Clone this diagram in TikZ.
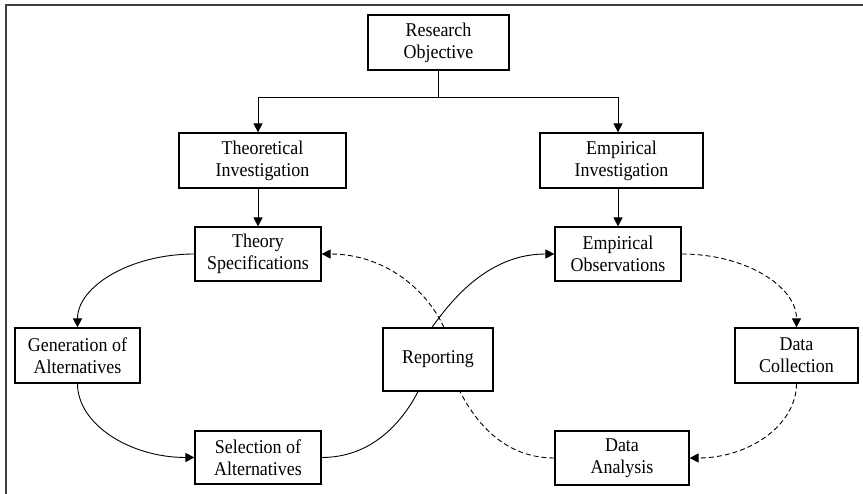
\documentclass[tikz,border=0pt]{standalone}
\usepackage{fontspec}
\setmainfont{Liberation Serif}[FakeStretch=0.92]
\usetikzlibrary{arrows.meta}
\pgfdeclarelayer{back}
\pgfsetlayers{back,main}
\begin{document}
\begin{tikzpicture}[x=1pt,y=-1pt,
  box/.style={draw, line width=1.2pt, fill=white, inner sep=0pt, align=center,
    font=\fontsize{19.5}{22}\selectfont},
  link/.style={line width=0.9pt},
  dashlink/.style={line width=0.9pt, dash pattern=on 5pt off 3pt},
  tip/.style={-{Triangle[length=9pt,width=9pt]}},
  frame/.style={line width=1.2pt, black!75}]
\useasboundingbox (0,0) rectangle (863,494);

% outer frame (top and left edges)
\draw[frame] (863,5) -- (6,5) -- (6,494);

% boxes
\node[box, minimum width=141pt, minimum height=55pt] (ro)  at (438.5,42.5) {Research\\Objective};
\node[box, minimum width=167pt, minimum height=55pt] (ti)  at (262.5,160.5) {Theoretical\\Investigation};
\node[box, minimum width=163pt, minimum height=55pt] (ei)  at (621.5,160.5) {Empirical\\Investigation};
\node[box, minimum width=126pt, minimum height=54pt] (ts)  at (258,254) {Theory\\Specifications};
\node[box, minimum width=126pt, minimum height=54pt] (eo)  at (618,254) {Empirical\\Observations};
\node[box, minimum width=125pt, minimum height=55pt] (ga)  at (77.5,355.5) {Generation of\\Alternatives};
\node[box, minimum width=110pt, minimum height=63pt] (rep) at (438,359.5) {Reporting};
\node[box, minimum width=123pt, minimum height=55pt] (dc)  at (796.5,355.5) {Data\\Collection};
\node[box, minimum width=126pt, minimum height=53pt] (sel) at (258,457.5) {Selection of\\Alternatives};
\node[box, minimum width=134pt, minimum height=54pt] (da)  at (622,458) {Data\\Analysis};

\begin{pgfonlayer}{back}
% tree from the objective
\coordinate (split) at (438.5,97);
\draw[link] (ro.south) -- (split);
\draw[link,tip] (split) -| (ts.north |- ti.north);
\draw[link,tip] (split) -| (eo.north |- ei.north);
\draw[link,tip] (ti.south -| ts.north) -- (ts.north);
\draw[link,tip] (ei.south -| eo.north) -- (eo.north);

% theory loop (solid)
\draw[link,tip] (ts.west) .. controls +(-64,0) and +(0,-41) .. (ga.north);
\draw[link,tip] (ga.south) .. controls +(0,41) and +(-64,0) .. (sel.west);
\draw[link] (sel.east) .. controls +(50,0) and +(-16,31) .. ([xshift=-20pt]rep.south);
\draw[link,tip] ([xshift=-6pt]rep.north) .. controls +(26,-37) and +(-60,0) .. (eo.west);

% empirical loop (dashed)
\draw[dashlink,tip] (eo.east) .. controls +(64,0) and +(0,-41) .. (dc.north);
\draw[dashlink,tip] (dc.south) .. controls +(0,41) and +(60,0) .. (da.east);
\draw[dashlink] (da.west) .. controls +(-50,0) and +(16,31) .. ([xshift=22pt]rep.south);
\draw[dashlink,tip] ([xshift=6pt]rep.north) .. controls +(-19,-41) and +(60,0) .. (ts.east);
\end{pgfonlayer}
\end{tikzpicture}
\end{document}
